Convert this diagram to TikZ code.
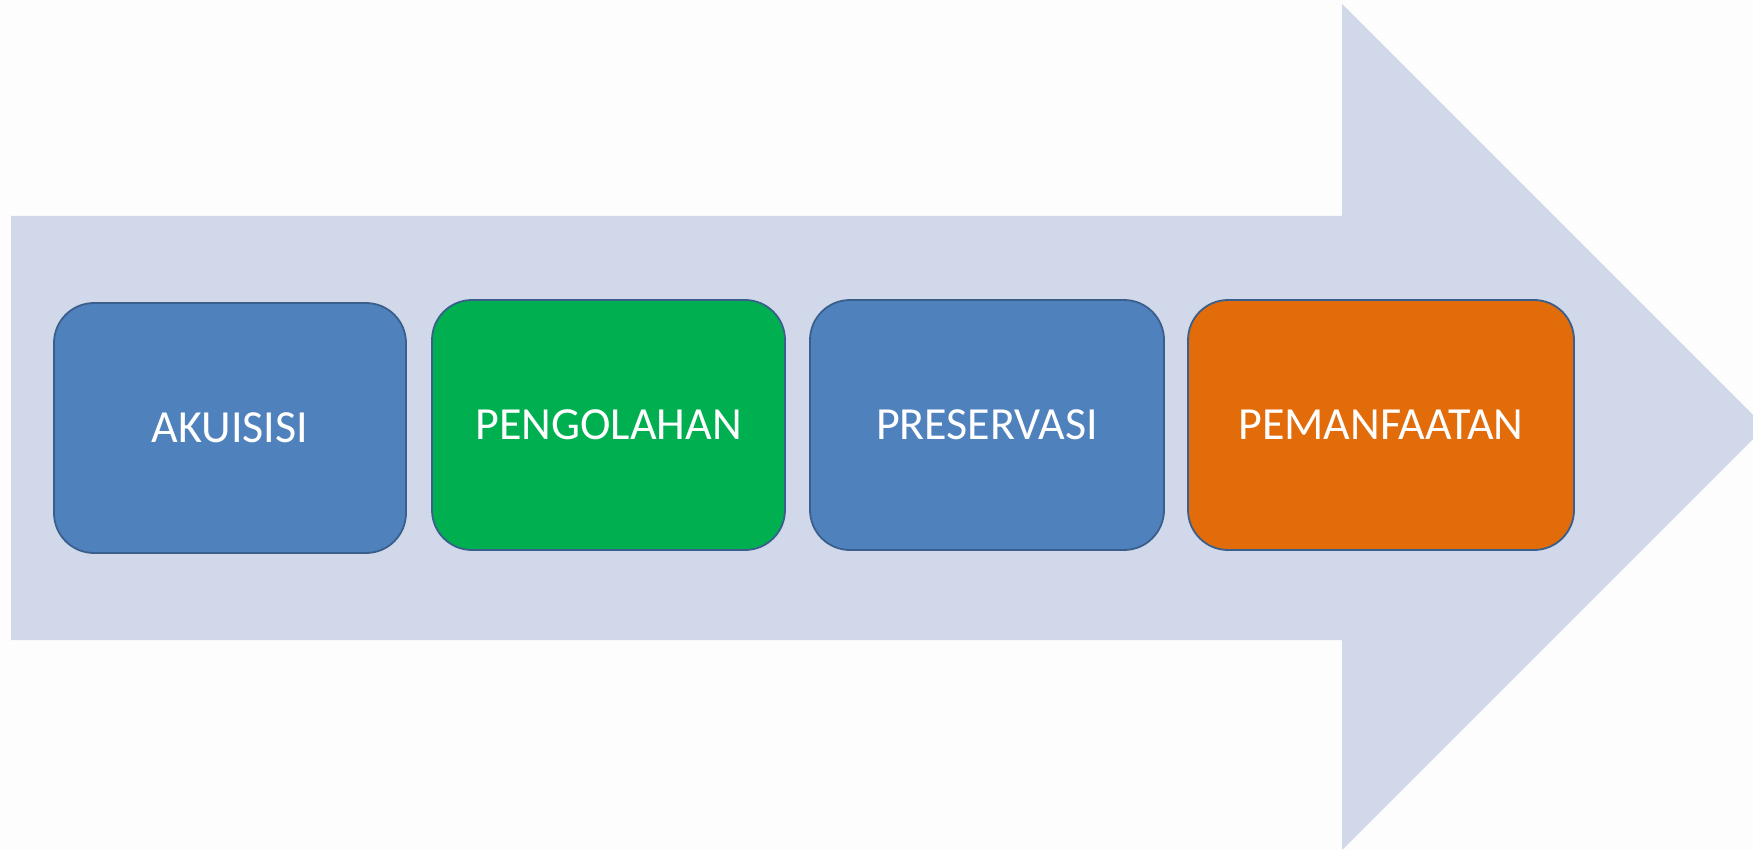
\documentclass[tikz,border=0pt]{standalone}
\usepackage{fontspec}
\setmainfont{Carlito}
\definecolor{bgc}{HTML}{FDFDFD}
\definecolor{arrowc}{HTML}{D1D8E9}
\definecolor{blueb}{HTML}{4F81BD}
\definecolor{greenb}{HTML}{00B050}
\definecolor{orangeb}{HTML}{E26B0A}
\definecolor{edgec}{HTML}{3A5F8C}
\begin{document}
\begin{tikzpicture}[x=1pt,y=-1pt,
  stage/.style={draw=edgec, line width=1.8pt, rounded corners=40pt, text=white,
    inner sep=0pt, minimum height=250pt,
    font=\fontsize{46}{52}\selectfont},
]
\path[fill=bgc] (0,0) rectangle (1753,850);
\useasboundingbox (0,0) rectangle (1753,850);
\fill[arrowc] (11,216) -- (1342,216) -- (1342,4) -- (1765,427) -- (1342,850) -- (1342,640) -- (11,640) -- cycle;
\node[stage, fill=blueb, minimum width=352pt] (a) at (230,428) {AKUISISI};
\node[stage, fill=greenb, minimum width=353pt] (b) at (608.5,425) {PENGOLAHAN};
\node[stage, fill=blueb, minimum width=354pt] (c) at (987,425) {PRESERVASI};
\node[stage, fill=orangeb, minimum width=386pt] (d) at (1381,425) {PEMANFAATAN};
\end{tikzpicture}
\end{document}
